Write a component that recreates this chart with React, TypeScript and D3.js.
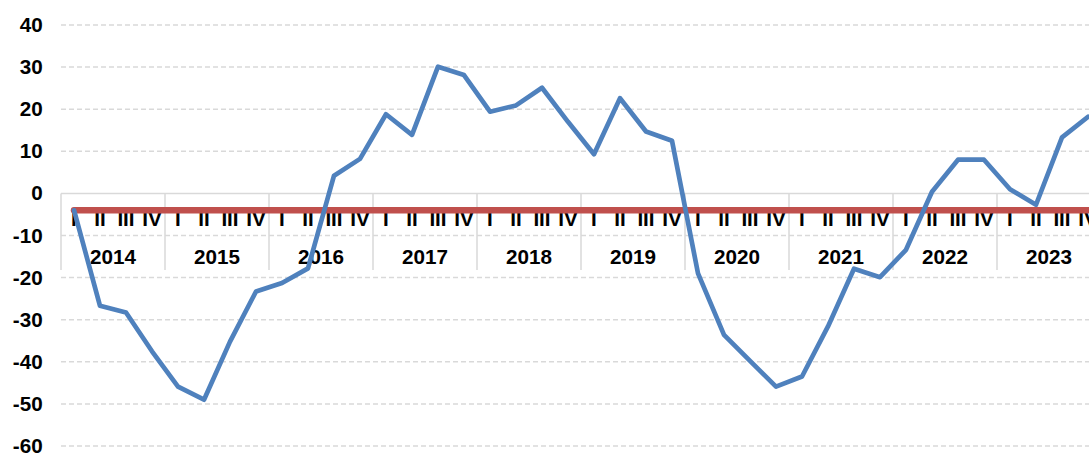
import React, { useEffect, useRef } from 'react';
import * as d3 from 'd3';

// --- Data ---
const years = ['2014', '2015', '2016', '2017', '2018', '2019', '2020', '2021', '2022', '2023'];
const quarters = ['I', 'II', 'III', 'IV'];
const balance = [
  -4, -26.7, -28.3, -37.5,
  -45.9, -49, -35.2, -23.3,
  -21.3, -17.8, 4.2, 8.2,
  18.8, 13.9, 30.1, 28.1,
  19.4, 20.9, 25.1, 17,
  9.3, 22.6, 14.7, 12.5,
  -19, -33.6, -39.8, -45.9,
  -43.5, -31.6, -17.9, -19.9,
  -13.4, 0.4, 8, 8,
  1, -2.7, 13.3, 18.2,
];
const average = -4;
const yTicks = [40, 30, 20, 10, 0, -10, -20, -30, -40, -50, -60];

const W = 1089;
const H = 455;

const App = () => {
  const ref = useRef<SVGSVGElement | null>(null);

  useEffect(() => {
    const svg = d3.select(ref.current);
    svg.selectAll('*').remove();

    const left = 61;
    const yearW = 104;
    const font = '"Liberation Sans", Arial, sans-serif';
    const stretch = 'scale(1.06,1)';
    const fontSize = '19.5px';

    const keys = years.flatMap(y => quarters.map(q => `${y}-${q}`));

    const x = d3.scaleBand<string>()
      .domain(keys)
      .range([left, left + yearW * years.length]);
    const xYear = d3.scaleBand<string>()
      .domain(years)
      .range([left, left + yearW * years.length]);
    const y = d3.scaleLinear().domain([-60, 40]).range([446, 25]);

    const cx = (i: number) => (x(keys[i]) as number) + x.bandwidth() / 2;

    // gridlines
    svg.append('g')
      .selectAll('line')
      .data(yTicks.filter(t => t !== 0))
      .enter()
      .append('line')
      .attr('x1', left)
      .attr('x2', W)
      .attr('y1', d => y(d))
      .attr('y2', d => y(d))
      .attr('stroke', '#d9d9d9')
      .attr('stroke-width', 1.5)
      .attr('stroke-dasharray', '5,3');

    // category axis line at zero + year separators
    svg.append('line')
      .attr('x1', left)
      .attr('x2', W)
      .attr('y1', y(0))
      .attr('y2', y(0))
      .attr('stroke', '#d9d9d9')
      .attr('stroke-width', 1.5);

    svg.append('g')
      .selectAll('line')
      .data(years)
      .enter()
      .append('line')
      .attr('x1', d => xYear(d) as number)
      .attr('x2', d => xYear(d) as number)
      .attr('y1', y(0))
      .attr('y2', 270)
      .attr('stroke', '#d9d9d9')
      .attr('stroke-width', 1.5);

    // y tick labels
    svg.append('g')
      .selectAll('text')
      .data(yTicks)
      .enter()
      .append('text')
      .attr('transform', d => `translate(42.7,${y(d)}) ${stretch}`)
      .attr('dy', '0.36em')
      .attr('text-anchor', 'end')
      .style('font-family', font)
      .style('font-weight', 'bold')
      .style('font-size', fontSize)
      .text(d => d);

    // quarter labels
    svg.append('g')
      .selectAll('text')
      .data(keys)
      .enter()
      .append('text')
      .attr('transform', (d, i) => `translate(${cx(i)},226) ${stretch}`)
      .attr('text-anchor', 'middle')
      .style('font-family', font)
      .style('font-weight', 'bold')
      .style('font-size', fontSize)
      .text(d => d.split('-')[1]);

    // year labels
    svg.append('g')
      .selectAll('text')
      .data(years)
      .enter()
      .append('text')
      .attr('transform', d => `translate(${(xYear(d) as number) + xYear.bandwidth() / 2},264.3) ${stretch}`)
      .attr('text-anchor', 'middle')
      .style('font-family', font)
      .style('font-weight', 'bold')
      .style('font-size', fontSize)
      .text(d => d);

    // average line
    svg.append('line')
      .attr('x1', cx(0))
      .attr('x2', cx(keys.length - 1) + 20)
      .attr('y1', y(average))
      .attr('y2', y(average))
      .attr('stroke', '#c0504d')
      .attr('stroke-width', 6.5)
      .attr('stroke-linecap', 'round');

    // main series
    const line = d3.line<number>()
      .x((d, i) => cx(i))
      .y(d => y(d));

    svg.append('path')
      .datum(balance)
      .attr('d', line)
      .attr('fill', 'none')
      .attr('stroke', '#4f81bd')
      .attr('stroke-width', 4.7)
      .attr('stroke-linejoin', 'round')
      .attr('stroke-linecap', 'round');
  }, []);

  return (
    <div style={{ position: 'absolute', left: 0, top: 0, width: W, height: H, background: '#fff' }}>
      <svg ref={ref} width={W} height={H} style={{ display: 'block', overflow: 'hidden' }} />
    </div>
  );
};

export default App;
